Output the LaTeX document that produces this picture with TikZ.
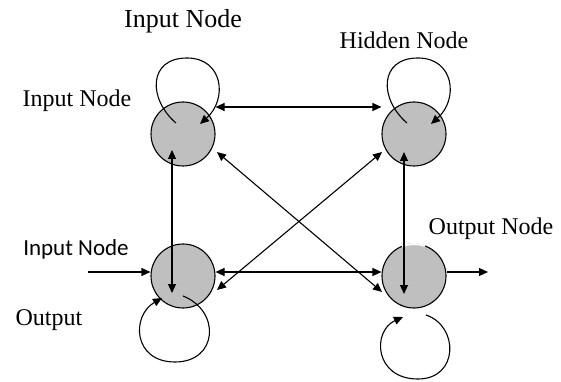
\documentclass[tikz,border=0pt]{standalone}
\usepackage{fontspec}
\setmainfont{Liberation Serif}
\newfontfamily\calibrifont{Carlito}
\usepackage{tikz}
\usetikzlibrary{arrows.meta, positioning}

\begin{document}
\begin{tikzpicture} [x = 1pt, y = 1pt, node distance = 142pt, on grid, line width = 1.1pt,
	neuron/.style = {circle, draw, fill = black!25, minimum size = 64pt, inner sep = 0pt},
	link/.style = {{Triangle[length = 9pt, width = 8pt]}-{Triangle[length = 9pt, width = 8pt]}},
	tip/.style = {-{Triangle[length = 9pt, width = 8pt]}},
	lbl/.style = {font = \fontsize{24}{28}\selectfont, inner sep = 0pt}]
			% Frame of the picture
			\useasboundingbox (-183,-248) rectangle (378,134);
			% Neurons : A is the reference, the others are placed from it
			\node (A) [neuron] {};
			\node (B) [neuron, right = 231pt of A] {};
			\node (C) [neuron, below = of A] {};
			\node (D) [neuron, below = of B] {};
			% Gap in the outline of D
			\draw [white, line width = 2pt] ([shift = {(70:32pt)}]D.center) arc (70:112:32pt);
			% Labels
			\node (title) [lbl, font = \fontsize{26}{30}\selectfont, above = 113pt of A] {Input Node};
			\node (inA) [lbl, above left = 33pt and 106pt of A] {Input Node};
			\node (hidB) [lbl, above left = 94pt and 10pt of B] {Hidden Node};
			\node (inC) [lbl, font = \calibrifont\fontsize{23}{27}\selectfont, above left = 27pt and 107pt of C] {Input Node};
			\node (outC) [lbl, below left = 44pt and 134pt of C] {Output};
			\node (outD) [lbl, above right = 47pt and 77pt of D] {Output Node};
			% Free ends of the input and output arrows
			\coordinate (inp) at ([shift = {(-95pt,4pt)}]C.center);
			\coordinate (outp) at ([shift = {(74pt,4pt)}]D.center);
			% Connections
			\draw [link] ([yshift = 27pt]A.east) -- ([yshift = 27pt]B.west);
			\draw [link] ([yshift = 4pt]C.east) -- ([yshift = 4pt]D.west);
			\draw [link] ([shift = {(-11pt,-16pt)}]A.center) -- ([shift = {(-11pt,-17pt)}]C.center);
			\draw [link] ([shift = {(-10pt,-18pt)}]B.center) -- ([shift = {(-10pt,-18pt)}]D.center);
			\draw [link] ([shift = {(34pt,-18pt)}]A.center) -- ([shift = {(-32pt,-16pt)}]D.center);
			\draw [link] ([shift = {(-32pt,-18pt)}]B.center) -- ([shift = {(34pt,-14pt)}]C.center);
			\draw [tip] (inp) -- ([yshift = 4pt]C.west);
			\draw [tip] ([yshift = 4pt]D.east) -- (outp);
			% Self loops
			\foreach \n in {A, B}
			\draw [tip, shift = {(\n.center)}] (-7,11) .. controls (-35,35) and (-35,76) .. (4,76)
			.. controls (40,76) and (45,35) .. (17,10);
			\draw [tip, shift = {(C.center)}] (0,-20) .. controls (38,-35) and (35,-86) .. (-8,-86)
			.. controls (-50,-86) and (-52,-40) .. (-21,-22);
			\draw [tip, shift = {(D.center)}] (12,-39) .. controls (45,-50) and (45,-103) .. (4,-103)
			.. controls (-40,-103) and (-42,-55) .. (-11,-41);
		\end{tikzpicture}
\end{document}
